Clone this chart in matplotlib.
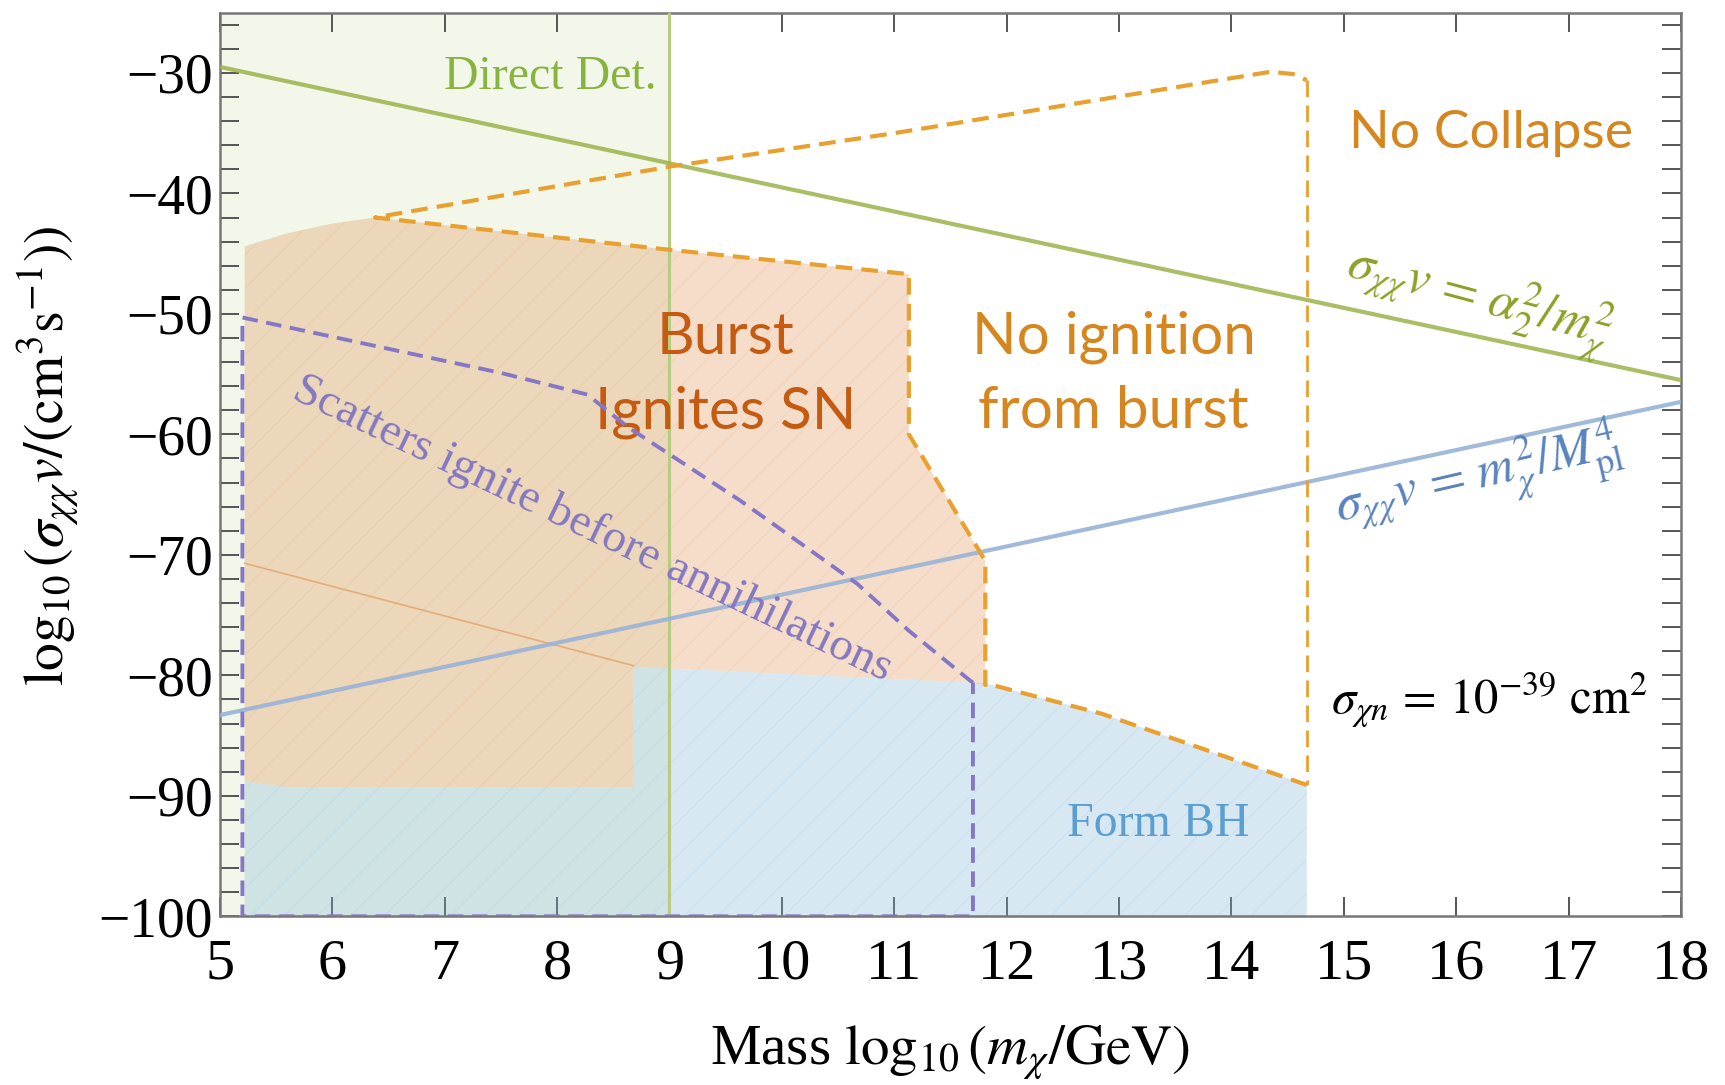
import matplotlib
matplotlib.use("Agg")
import matplotlib.pyplot as plt
from matplotlib.patches import Polygon
from matplotlib.ticker import MultipleLocator, FuncFormatter

plt.rcParams["font.family"] = ["Liberation Serif", "DejaVu Serif"]
plt.rcParams["mathtext.fontset"] = "stix"
plt.rcParams["hatch.linewidth"] = 0.6

# axis limits
x_range = (5, 18)
y_range = (-100, -25)

# annihilation rate reference lines (end points)
alpha_line_x = [5, 18]
alpha_line_y = [-29.5, -55.5]
planck_line_x = [5, 18]
planck_line_y = [-83.3, -57.3]

# direct detection excluded band
direct_det_x = [5, 9]

# burst ignites SN region
burst_x = [5.22, 5.6, 6.0, 6.38, 9.02, 11.13, 11.13, 11.81, 11.81, 11.67, 8.68, 8.68, 5.6, 5.22]
burst_y = [-44.4, -43.3, -42.5, -42.0, -44.7, -46.7, -60.0, -70.5, -80.8, -80.6, -79.3, -89.3, -89.3, -88.8]

# black hole formation region
bh_x = [5.22, 5.6, 8.68, 8.68, 11.67, 11.83, 12.85, 14.67, 14.67, 5.22]
bh_y = [-88.8, -89.3, -89.3, -79.3, -80.6, -80.7, -83.2, -89.1, -100, -100]

# faint inner boundary inside the burst region
inner_x = [5.22, 8.68]
inner_y = [-70.7, -79.2]

# "no ignition from burst" dashed outline
noign_x = [14.67, 12.85, 11.83, 11.81, 11.81, 11.13, 11.13, 9.02, 6.38, 9.02, 11.0, 14.35, 14.55, 14.67]
noign_y = [-89.1, -83.2, -80.7, -80.8, -70.5, -60.0, -46.7, -44.7, -42.0, -37.75, -35.0, -29.9, -30.1, -30.6]
collapse_x = [14.67, 14.67]
collapse_y = [-30.6, -89.1]

# scatters-ignite boundary
scatter_x = [11.70, 11.67, 11.13, 10.67, 10.22, 9.63, 9.04, 8.63, 8.27, 7.5, 5.20, 5.20, 11.70, 11.70]
scatter_y = [-80.6, -80.4, -76.3, -72.4, -69.4, -65.5, -61.9, -59.4, -56.7, -54.9, -50.3, -100, -100, -80.6]

green = "#9bb34a"
orange = "#e8a02e"
purple = "#8677c6"
blue_line = "#98b3d6"
calibri_like = ["Lato", "DejaVu Sans"]

fig = plt.figure(figsize=(17.25, 10.85), dpi=100)
ax = fig.add_axes([0.1275, 0.1555, 0.847, 0.8328])
ax.set_xlim(*x_range)
ax.set_ylim(*y_range)

# shaded regions
ax.axvspan(direct_det_x[0], direct_det_x[1], color="#8fb840", alpha=0.11, lw=0, zorder=1)
ax.add_patch(Polygon(list(zip(burst_x, burst_y)), closed=True, facecolor="#e0965a",
                     alpha=0.32, lw=0, zorder=2))
ax.add_patch(Polygon(list(zip(bh_x, bh_y)), closed=True, facecolor="#80b6da",
                     alpha=0.3, lw=0, zorder=2))
# light mesh texture on the fills
ax.add_patch(Polygon(list(zip(burst_x, burst_y)), closed=True, fill=False, hatch="/",
                     edgecolor=(0.85, 0.55, 0.3, 0.14), lw=0, zorder=2.1))
ax.add_patch(Polygon(list(zip(bh_x, bh_y)), closed=True, fill=False, hatch="/",
                     edgecolor=(0.4, 0.65, 0.85, 0.14), lw=0, zorder=2.1))

ax.plot(inner_x, inner_y, color="#e09050", lw=1.2, alpha=0.6, zorder=2.2)

# reference lines
ax.axvline(direct_det_x[1], color="#b6cc80", lw=2.2, zorder=3)
ax.plot(alpha_line_x, alpha_line_y, color=green, lw=3, alpha=0.85, zorder=3)
ax.plot(planck_line_x, planck_line_y, color=blue_line, lw=3, alpha=0.9, zorder=3)

# dashed boundaries
ax.plot(noign_x, noign_y, color=orange, lw=3, dashes=(4, 2.2), zorder=4,
        solid_joinstyle="round")
ax.plot(collapse_x, collapse_y, color=orange, lw=2, dashes=(6, 3), zorder=4)
ax.plot(scatter_x, scatter_y, color=purple, lw=2.8, dashes=(4, 2.2), zorder=4)

# region labels
ax.text(7.94, -30.3, "Direct Det.", color="#86b43e", fontsize=34.5, ha="center", va="center")
ax.text(16.31, -35.0, "No Collapse", color="#d6861e", fontsize=38.5,
        family=calibri_like, ha="center", va="center")
ax.text(9.5, -55.1, "Burst\nIgnites SN", color="#c55a11", fontsize=42,
        family=calibri_like, ha="center", va="center", linespacing=1.5)
ax.text(12.95, -55.0, "No ignition\nfrom burst", color="#d6861e", fontsize=42,
        family=calibri_like, ha="center", va="center", linespacing=1.5)
ax.text(8.31, -67.9, "Scatters ignite before annihilations", color="#8478c0", fontsize=34,
        rotation=-25.5, rotation_mode="anchor", ha="center", va="center")
ax.text(16.2, -48.8, r"$\sigma_{\chi\chi}v\,=\,\alpha_2^2/m_\chi^2$", color="#8fa028",
        fontsize=37, rotation=-15, rotation_mode="anchor", ha="center", va="center")
ax.text(16.2, -63.6, r"$\sigma_{\chi\chi}v\,=\,m_\chi^2/M_{\rm pl}^4$", color="#5a83bd",
        fontsize=37, rotation=13, rotation_mode="anchor", ha="center", va="center")
ax.text(16.3, -82.0, r"$\sigma_{\chi n}\,=\,10^{-39}\ \mathrm{cm}^2$", color="black",
        fontsize=35, ha="center", va="center")
ax.text(13.35, -92.3, "Form BH", color="#5a9fcf", fontsize=34.5, ha="center", va="center")

# frame and ticks
ax.xaxis.set_major_locator(MultipleLocator(1))
ax.yaxis.set_major_locator(MultipleLocator(10))
ax.yaxis.set_minor_locator(MultipleLocator(2))
ax.tick_params(which="both", direction="in", top=True, right=True, color="#555555",
               width=1.4, length=14)
ax.tick_params(axis="x", labelsize=42, pad=16)
ax.tick_params(axis="y", labelsize=40, pad=5)
for sp in ax.spines.values():
    sp.set_color("#777777")
    sp.set_linewidth(1.8)
ax.yaxis.set_major_formatter(FuncFormatter(
    lambda v, p: f"\u2212{abs(int(v))}" if v < 0 else f"{int(v)}"))

ax.set_xlabel(r"Mass $\log_{10}(m_\chi/\mathrm{GeV})$", fontsize=41)
ax.xaxis.set_label_coords(0.5, -0.151)
ax.xaxis.label.set_va("center")
ax.set_ylabel(r"$\log_{10}(\sigma_{\chi\chi}v/(\mathrm{cm}^3\mathrm{s}^{-1}))$", fontsize=40)
ax.yaxis.set_label_coords(-0.118, 0.51)
ax.yaxis.label.set_va("center")

fig.savefig("out.png", dpi=100)
